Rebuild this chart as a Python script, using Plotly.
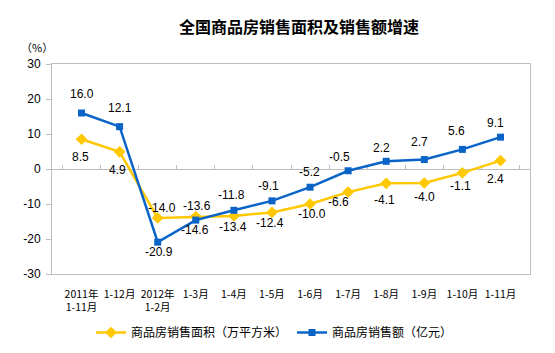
import plotly.graph_objects as go

categories = ["2011年<br>1-11月", "1-12月", "2012年<br>1-2月", "1-3月", "1-4月", "1-5月",
              "1-6月", "1-7月", "1-8月", "1-9月", "1-10月", "1-11月"]
area_growth = [8.5, 4.9, -14.0, -13.6, -13.4, -12.4, -10.0, -6.6, -4.1, -4.0, -1.1, 2.4]
sales_growth = [16.0, 12.1, -20.9, -14.6, -11.8, -9.1, -5.2, -0.5, 2.2, 2.7, 5.6, 9.1]
y_ticks = [30, 20, 10, 0, -10, -20, -30]
y_tick_text = [str(v) for v in y_ticks]

# label offsets (style only), in pixels
area_dy = [-18, -18, 10, 11, -11, -11, -10, -10, -17, -14, -13, -18]
area_dx = [-1, -2, 4, 1, -1, -2, 2, -10, -2, 0, -2, -5]
sales_dy = [19, 19, -10, -10, 15, 15, 15, 14, 13, 18, 18, 14]
sales_dx = [0, 0, 1, -1, -2, -3, -1, -9, -5, -5, -6, -5]

YELLOW = "#FFC800"
BLUE = "#0A64C8"
GRID = "#BEBEBE"

fig = go.Figure()
fig.add_trace(go.Scatter(
    x=categories, y=area_growth, mode="lines+markers", name="商品房销售面积（万平方米）",
    line=dict(color=YELLOW, width=2.5),
    marker=dict(symbol="diamond", size=9, color=YELLOW),
))
fig.add_trace(go.Scatter(
    x=categories, y=sales_growth, mode="lines+markers", name="商品房销售额（亿元）",
    line=dict(color=BLUE, width=2.5),
    marker=dict(symbol="square", size=7, color=BLUE),
))
# helper trace for the zero-crossing category axis
fig.add_trace(go.Scatter(x=categories, y=[0] * len(categories), xaxis="x2",
                         mode="none", showlegend=False, hoverinfo="skip"))

annotations = []
lab_font = dict(family="Liberation Sans, Arial", size=12, color="#000000")
for i, c in enumerate(categories):
    annotations.append(dict(x=c, y=area_growth[i], xref="x", yref="y", text=f"{area_growth[i]:.1f}",
                            showarrow=False, yshift=area_dy[i], xshift=area_dx[i], font=lab_font))
    annotations.append(dict(x=c, y=sales_growth[i], xref="x", yref="y", text=f"{sales_growth[i]:.1f}",
                            showarrow=False, yshift=sales_dy[i], xshift=sales_dx[i], font=lab_font))
annotations.append(dict(x=(36.5 - 52) / 478, y=1 + (64 - 47) / 210, xref="paper", yref="paper",
                        xanchor="center", yanchor="middle", text="（%）", showarrow=False,
                        font=dict(family="Noto Sans CJK SC", size=11, color="#000000")))

fig.update_layout(
    width=555, height=353,
    margin=dict(l=52, r=25, t=64, b=79, autoexpand=False),
    paper_bgcolor="white", plot_bgcolor="white",
    title=dict(text="<b>全国商品房销售面积及销售额增速</b>", x=299 / 555, xref="container", xanchor="center",
               y=1 - 27.5 / 353, yref="container", yanchor="middle",
               font=dict(family="Noto Sans CJK SC", size=16, color="#000000")),
    xaxis=dict(type="category", categoryorder="array", categoryarray=categories,
               showline=True, linecolor=GRID, linewidth=1, mirror=True, ticks="",
               showgrid=False, zeroline=False, automargin=False,
               tickfont=dict(family="Noto Sans CJK SC", size=10.5, color="#000000"),
               ticklabelstandoff=10),
    xaxis2=dict(type="category", categoryorder="array", categoryarray=categories,
                overlaying="x", matches="x", anchor="free", position=0.5, side="bottom",
                showline=True, linecolor=GRID, linewidth=1, ticks="inside", tickson="boundaries",
                ticklen=4, tickcolor=GRID, showticklabels=False, showgrid=False, zeroline=False,
                layer="below traces", automargin=False),
    yaxis=dict(range=[-30, 30], tickvals=y_ticks, ticktext=y_tick_text,
               showline=True, linecolor=GRID, linewidth=1, mirror=True,
               ticks="outside", ticklen=5, tickcolor=GRID, showgrid=False, zeroline=False,
               automargin=False,
               tickfont=dict(family="Liberation Sans, Arial", size=12, color="#000000"),
               ticklabelstandoff=3),
    legend=dict(orientation="h", xref="container", yref="container",
                x=91 / 555, xanchor="left", y=1 - 332.5 / 353, yanchor="middle",
                font=dict(family="Noto Sans CJK SC", size=12, color="#000000"),
                itemwidth=30, bgcolor="rgba(0,0,0,0)"),
    annotations=annotations,
    showlegend=True,
)

fig.write_html("out.html")
